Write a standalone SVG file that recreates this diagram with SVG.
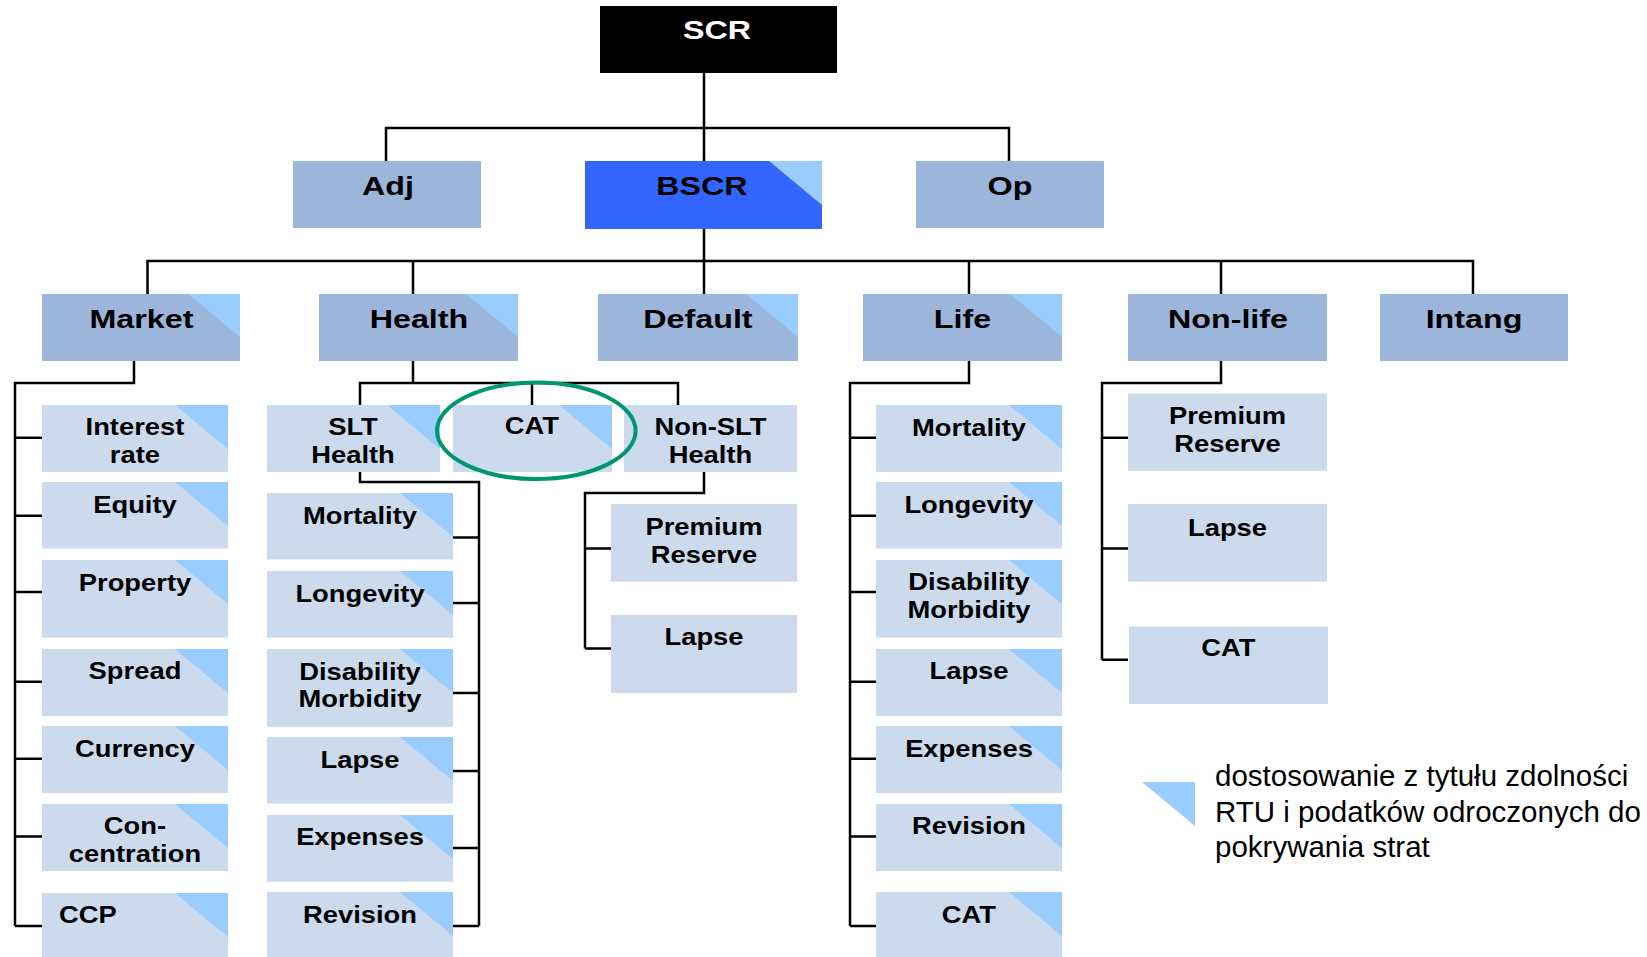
<svg xmlns="http://www.w3.org/2000/svg" width="1647" height="957" viewBox="0 0 1647 957">
  <style>
    .top { fill: #9BB5DB; }
    .sub { fill: #CBDAEC; }
    .tri { fill: #99CCFF; }
    .wire { fill: none; stroke: #000; stroke-width: 2.5; }
    .t1 { font-family: "Liberation Sans", Arial, Helvetica, sans-serif; font-weight: 700; font-size: 25px; text-anchor: middle; fill: #000;
          transform: scaleX(1.29); transform-box: fill-box; transform-origin: center; }
    .t2 { font-family: "Liberation Sans", Arial, Helvetica, sans-serif; font-weight: 700; font-size: 23px; text-anchor: middle; fill: #000;
          transform: scaleX(1.19); transform-box: fill-box; transform-origin: center; }
    .note { font-family: "Liberation Sans", Arial, Helvetica, sans-serif; font-size: 29.5px; fill: #000; }
  </style>

  <rect width="1647" height="957" fill="#fff"/>

  <!-- connectors -->
  <g id="connectors" class="wire">
    <path d="M704,73 V128 M386,161 V128 H1009 V161 M704,128 V161"/>
    <path d="M704,229 V261 M147.5,294 V261 H1473 V294 M413,261 V294 M704,261 V294 M969,261 V294 M1221,261 V294"/>
    <!-- Market -->
    <path d="M134,361 V383 H15 V926 M15,437.7 H42 M15,515.7 H42 M15,592 H42 M15,681.8 H42 M15,758.7 H42 M15,836.4 H42 M15,926 H42"/>
    <!-- Health -->
    <path d="M413,361 V383 M360,405 V383 H678 V405 M532,383 V405"/>
    <path d="M360,472 V482 H479 V926 M453,537.5 H479 M453,603 H479 M453,693 H479 M453,771 H479 M453,848 H479 M453,926 H479"/>
    <path d="M704,472 V493 H585 V648.6 M585,548.5 H611 M585,648.6 H611"/>
    <!-- Life -->
    <path d="M969,361 V383 H850 V926 M850,437.7 H876 M850,515.7 H876 M850,592 H876 M850,681.8 H876 M850,758.7 H876 M850,836.4 H876 M850,926 H876"/>
    <!-- Non-life -->
    <path d="M1221,361 V383 H1102 V659.7 M1102,437.7 H1128 M1102,548.5 H1128 M1102,659.7 H1128"/>
  </g>

  <!-- top levels -->
  <g id="scr">
    <rect x="600" y="6" width="237" height="67" fill="#000"/>
    <text class="t1" x="717" y="39" style="fill:#fff">SCR</text>
  </g>
  <g id="adj">
    <rect class="top" x="293" y="161" width="188" height="67"/>
    <text class="t1" x="388" y="195">Adj</text>
  </g>
  <g id="bscr">
    <rect x="585" y="161" width="237" height="68" fill="#3366FF"/>
    <polygon class="tri" points="769,161 822,161 822,205"/>
    <text class="t1" x="702" y="195">BSCR</text>
  </g>
  <g id="op">
    <rect class="top" x="916" y="161" width="188" height="67"/>
    <text class="t1" x="1010" y="195">Op</text>
  </g>

  <g id="market">
    <rect class="top" x="42" y="294" width="198" height="67"/>
    <polygon class="tri" points="188,294 240,294 240,337"/>
    <text class="t1" x="141.5" y="328">Market</text>
  </g>
  <g id="health">
    <rect class="top" x="319" y="294" width="199" height="67"/>
    <polygon class="tri" points="466,294 518,294 518,337"/>
    <text class="t1" x="419" y="328">Health</text>
  </g>
  <g id="default">
    <rect class="top" x="598" y="294" width="200" height="67"/>
    <polygon class="tri" points="746,294 798,294 798,337"/>
    <text class="t1" x="698" y="328">Default</text>
  </g>
  <g id="life">
    <rect class="top" x="863" y="294" width="199" height="67"/>
    <polygon class="tri" points="1010,294 1062,294 1062,337"/>
    <text class="t1" x="962.5" y="328">Life</text>
  </g>
  <g id="nonlife">
    <rect class="top" x="1128" y="294" width="199" height="67"/>
    <text class="t1" x="1228" y="328">Non-life</text>
  </g>
  <g id="intang">
    <rect class="top" x="1380" y="294" width="188" height="67"/>
    <text class="t1" x="1474" y="328">Intang</text>
  </g>

  <!-- Market modules -->
  <g id="mkt-interest">
    <rect class="sub" x="42" y="405" width="186" height="67"/>
    <polygon class="tri" points="175,405 228,405 228,449"/>
    <text class="t2" x="135" y="435.5"><tspan x="135">Interest</tspan><tspan x="135" y="463">rate</tspan></text>
  </g>
  <g id="mkt-equity">
    <rect class="sub" x="42" y="482" width="186" height="66.5"/>
    <polygon class="tri" points="175,482 228,482 228,526"/>
    <text class="t2" x="135" y="513">Equity</text>
  </g>
  <g id="mkt-property">
    <rect class="sub" x="42" y="560" width="186" height="77.6"/>
    <polygon class="tri" points="175,560 228,560 228,604"/>
    <text class="t2" x="135" y="591">Property</text>
  </g>
  <g id="mkt-spread">
    <rect class="sub" x="42" y="649" width="186" height="67"/>
    <polygon class="tri" points="175,649 228,649 228,693"/>
    <text class="t2" x="135" y="679.5">Spread</text>
  </g>
  <g id="mkt-currency">
    <rect class="sub" x="42" y="726" width="186" height="67"/>
    <polygon class="tri" points="175,726 228,726 228,770"/>
    <text class="t2" x="135" y="757">Currency</text>
  </g>
  <g id="mkt-concentration">
    <rect class="sub" x="42" y="804" width="186" height="67"/>
    <polygon class="tri" points="175,804 228,804 228,848"/>
    <text class="t2" x="135" y="834"><tspan x="135">Con-</tspan><tspan x="135" y="862">centration</tspan></text>
  </g>
  <g id="mkt-ccp">
    <rect class="sub" x="42" y="893" width="186" height="67"/>
    <polygon class="tri" points="175,893 228,893 228,937"/>
    <text class="t2" x="88" y="923">CCP</text>
  </g>

  <!-- Health modules -->
  <g id="slt-health">
    <rect class="sub" x="267" y="405" width="173" height="67"/>
    <polygon class="tri" points="387,405 440,405 440,449"/>
    <text class="t2" x="353" y="435.5"><tspan x="353">SLT</tspan><tspan x="353" y="463">Health</tspan></text>
  </g>
  <g id="health-cat">
    <rect class="sub" x="453" y="405" width="159" height="67"/>
    <polygon class="tri" points="559,405 612,405 612,449"/>
    <text class="t2" x="532" y="434.5">CAT</text>
  </g>
  <g id="nonslt-health">
    <rect class="sub" x="624" y="405" width="173" height="67"/>
    <text class="t2" x="710.5" y="435.5"><tspan x="710.5">Non-SLT</tspan><tspan x="710.5" y="463">Health</tspan></text>
  </g>

  <g id="slt-mortality">
    <rect class="sub" x="267" y="493" width="186" height="66.5"/>
    <polygon class="tri" points="400,493 453,493 453,537"/>
    <text class="t2" x="360" y="524.5">Mortality</text>
  </g>
  <g id="slt-longevity">
    <rect class="sub" x="267" y="571" width="186" height="66.6"/>
    <polygon class="tri" points="400,571 453,571 453,615"/>
    <text class="t2" x="360" y="602">Longevity</text>
  </g>
  <g id="slt-disability">
    <rect class="sub" x="267" y="649" width="186" height="77.7"/>
    <polygon class="tri" points="400,649 453,649 453,693"/>
    <text class="t2" x="360" y="680"><tspan x="360">Disability</tspan><tspan x="360" y="707.5">Morbidity</tspan></text>
  </g>
  <g id="slt-lapse">
    <rect class="sub" x="267" y="737" width="186" height="66.6"/>
    <polygon class="tri" points="400,737 453,737 453,781"/>
    <text class="t2" x="360" y="768.5">Lapse</text>
  </g>
  <g id="slt-expenses">
    <rect class="sub" x="267" y="815" width="186" height="66.7"/>
    <polygon class="tri" points="400,815 453,815 453,859"/>
    <text class="t2" x="360" y="845.5">Expenses</text>
  </g>
  <g id="slt-revision">
    <rect class="sub" x="267" y="892" width="186" height="67"/>
    <polygon class="tri" points="400,892 453,892 453,936"/>
    <text class="t2" x="360" y="923">Revision</text>
  </g>

  <g id="nonslt-premium">
    <rect class="sub" x="611" y="504" width="186" height="77.6"/>
    <text class="t2" x="704" y="535.5"><tspan x="704">Premium</tspan><tspan x="704" y="563">Reserve</tspan></text>
  </g>
  <g id="nonslt-lapse">
    <rect class="sub" x="611" y="615" width="186" height="78"/>
    <text class="t2" x="704" y="645.5">Lapse</text>
  </g>

  <!-- Life modules -->
  <g id="life-mortality">
    <rect class="sub" x="876" y="405" width="186" height="67"/>
    <polygon class="tri" points="1009,405 1062,405 1062,449"/>
    <text class="t2" x="969" y="436">Mortality</text>
  </g>
  <g id="life-longevity">
    <rect class="sub" x="876" y="482" width="186" height="66.5"/>
    <polygon class="tri" points="1009,482 1062,482 1062,526"/>
    <text class="t2" x="969" y="513.5">Longevity</text>
  </g>
  <g id="life-disability">
    <rect class="sub" x="876" y="560" width="186" height="77.6"/>
    <polygon class="tri" points="1009,560 1062,560 1062,604"/>
    <text class="t2" x="969" y="590.5"><tspan x="969">Disability</tspan><tspan x="969" y="618.5">Morbidity</tspan></text>
  </g>
  <g id="life-lapse">
    <rect class="sub" x="876" y="649" width="186" height="67"/>
    <polygon class="tri" points="1009,649 1062,649 1062,693"/>
    <text class="t2" x="969" y="679.5">Lapse</text>
  </g>
  <g id="life-expenses">
    <rect class="sub" x="876" y="726" width="186" height="67"/>
    <polygon class="tri" points="1009,726 1062,726 1062,770"/>
    <text class="t2" x="969" y="757">Expenses</text>
  </g>
  <g id="life-revision">
    <rect class="sub" x="876" y="804" width="186" height="67"/>
    <polygon class="tri" points="1009,804 1062,804 1062,848"/>
    <text class="t2" x="969" y="834">Revision</text>
  </g>
  <g id="life-cat">
    <rect class="sub" x="876" y="892" width="186" height="67"/>
    <polygon class="tri" points="1009,892 1062,892 1062,936"/>
    <text class="t2" x="969" y="923">CAT</text>
  </g>

  <!-- Non-life modules -->
  <g id="nl-premium">
    <rect class="sub" x="1128" y="393.5" width="199" height="77.3"/>
    <text class="t2" x="1227.5" y="424.5"><tspan x="1227.5">Premium</tspan><tspan x="1227.5" y="452.5">Reserve</tspan></text>
  </g>
  <g id="nl-lapse">
    <rect class="sub" x="1128" y="504" width="199" height="77.6"/>
    <text class="t2" x="1227.5" y="536">Lapse</text>
  </g>
  <g id="nl-cat">
    <rect class="sub" x="1129" y="626.6" width="199" height="77.4"/>
    <text class="t2" x="1228.5" y="656.5">CAT</text>
  </g>

  <!-- highlight ring around the health CAT module -->
  <ellipse id="cat-ring" cx="536.3" cy="430.8" rx="99.3" ry="48.2" fill="none" stroke="#009670" stroke-width="4"/>

  <!-- legend -->
  <g id="legend">
    <polygon class="tri" points="1142,782 1195,782 1195,826"/>
    <text class="note" x="1215" y="786">dostosowanie z tytułu zdolności</text>
    <text class="note" x="1215" y="821.5">RTU i podatków odroczonych do</text>
    <text class="note" x="1215" y="857">pokrywania strat</text>
  </g>
</svg>
